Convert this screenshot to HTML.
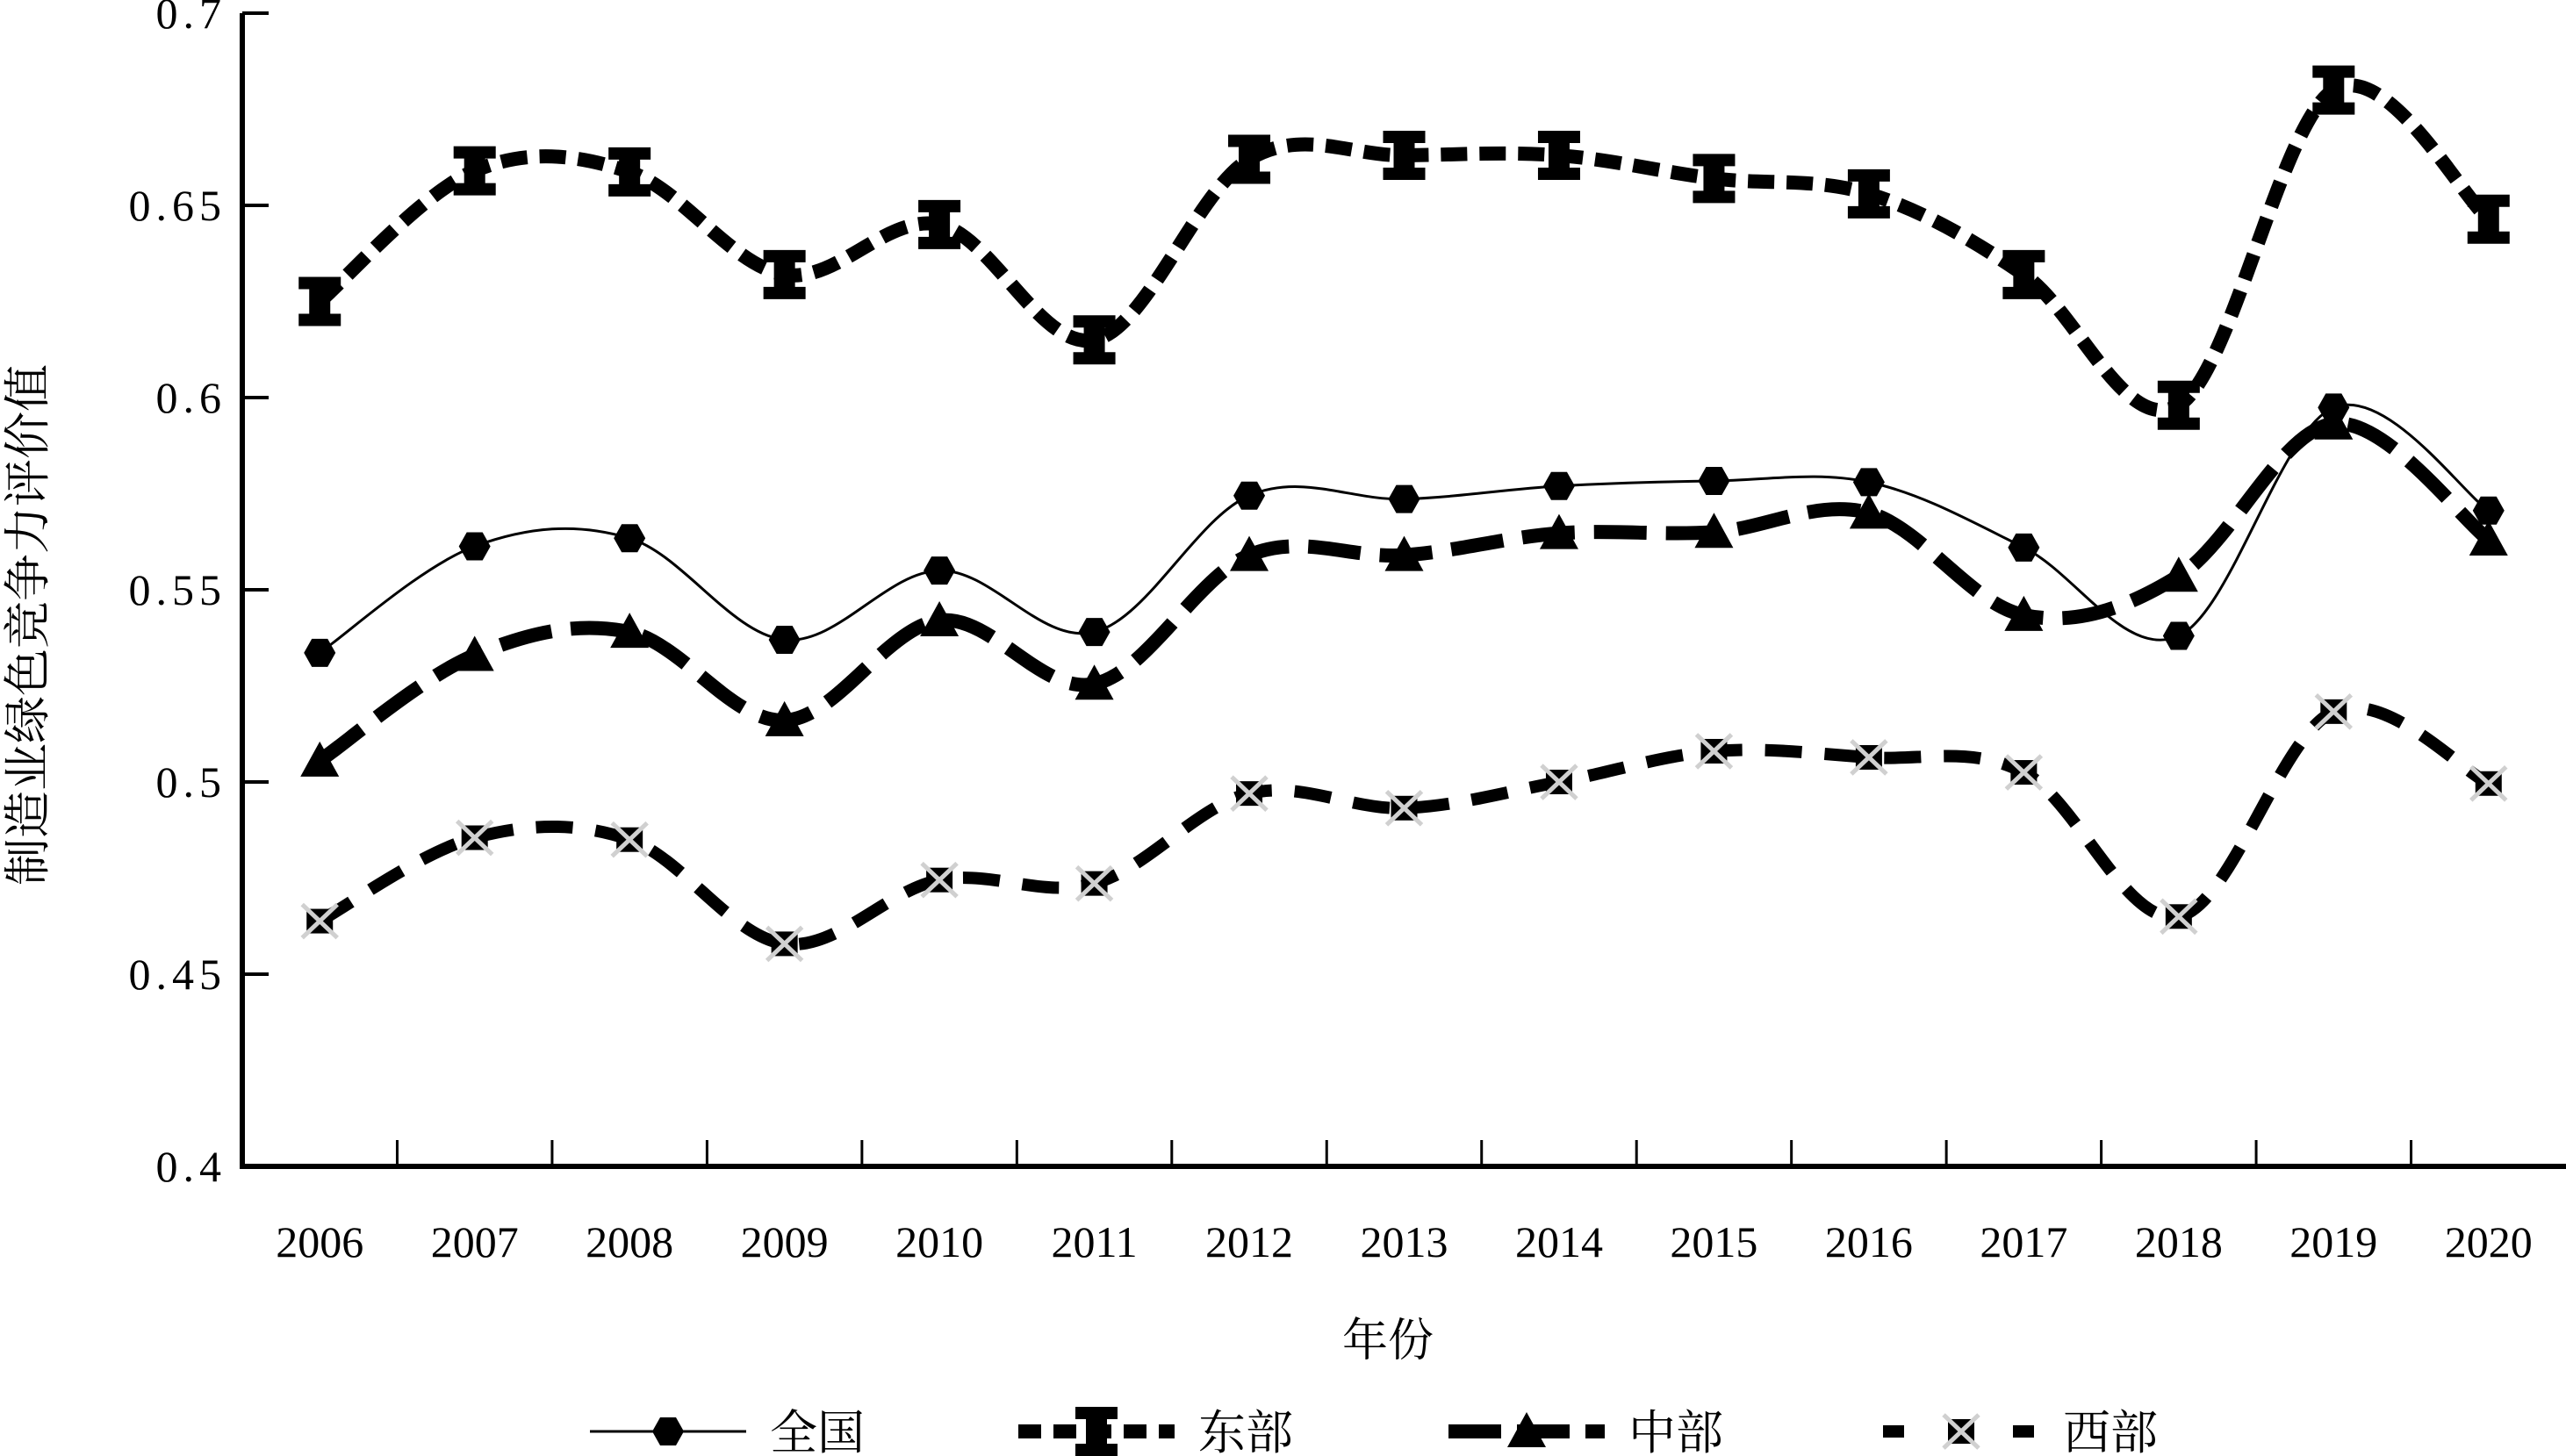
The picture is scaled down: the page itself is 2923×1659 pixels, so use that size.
<!DOCTYPE html>
<html><head><meta charset="utf-8">
<style>
html,body{margin:0;padding:0;background:#fff;}
svg{display:block;}
.tick{font-family:"Liberation Serif","Noto Serif CJK SC",serif;font-size:50px;fill:#000;}
.cjk{font-family:"Liberation Serif","Noto Serif CJK SC","Noto Sans CJK SC",serif;fill:#000;}
</style></head>
<body>
<svg id="chart" width="2923" height="1659" viewBox="0 0 2923 1659" xmlns="http://www.w3.org/2000/svg">
<g id="axes"></g>
<g id="series"></g>
<text class="cjk" x="1581" y="1545" font-size="52" text-anchor="middle">年份</text>
<text class="cjk" transform="translate(50,712) rotate(-90)" font-size="54" text-anchor="middle">制造业绿色竞争力评价值</text>
<g id="legend"></g>
</svg>
<script>
const categories=["2006","2007","2008","2009","2010","2011","2012","2013","2014","2015","2016","2017","2018","2019","2020"];
const seriesNames=["全国","东部","中部","西部"];
const quanguo=[0.5336,0.5613,0.5634,0.537,0.555,0.539,0.5745,0.5736,0.577,0.5783,0.578,0.561,0.538,0.5974,0.5706];
const dongbu=[0.625,0.659,0.6587,0.632,0.645,0.615,0.662,0.663,0.663,0.657,0.653,0.632,0.598,0.680,0.6464];
const zhongbu=[0.5055,0.533,0.539,0.516,0.542,0.5255,0.559,0.559,0.5647,0.565,0.570,0.5434,0.5536,0.5932,0.563];
const xibu=[0.4638,0.4855,0.485,0.4579,0.4745,0.4736,0.497,0.4932,0.5,0.508,0.5064,0.5025,0.465,0.5183,0.4996];
const yTicks=[0.4,0.45,0.5,0.55,0.6,0.65,0.7];
const yTickLabels=["0.4","0.45","0.5","0.55","0.6","0.65","0.7"];

const NS="http://www.w3.org/2000/svg";
const L=276,R=2923,T=15,B=1329,yMin=0.4,yMax=0.7;
const cw=(R-L)/categories.length;
function xPos(i){return L+cw*(i+0.5);}
function yPos(v){return B-(v-yMin)/(yMax-yMin)*(B-T);}
function mk(tag,attrs,parent){const e=document.createElementNS(NS,tag);for(const k in attrs)e.setAttribute(k,attrs[k]);parent.appendChild(e);return e;}

const axes=document.getElementById('axes');
// y ticks
yTicks.forEach((v,i)=>{
  const t=mk('line',{x1:L,x2:L+30,y1:yPos(v),y2:yPos(v),stroke:'#000','stroke-width':4},axes);
  
  
  const lb=mk('text',{x:258,y:yPos(v)+17,'text-anchor':'end',class:'tick','letter-spacing':'6'},axes);
  lb.textContent=yTickLabels[i];
  
  
});
// x ticks
for(let i=1;i<categories.length;i++){
  const t=mk('line',{x1:L+cw*i,x2:L+cw*i,y1:B,y2:B-30,stroke:'#000','stroke-width':3},axes);
  
  
}
categories.forEach((c,i)=>{
  const lb=mk('text',{x:xPos(i),y:1432,'text-anchor':'middle',class:'tick','font-size':'52'},axes);
  lb.textContent=c;
  
  
});
const ya=mk('line',{x1:L,x2:L,y1:T,y2:B+3,stroke:'#000','stroke-width':6},axes);


const xa=mk('line',{x1:L-3,x2:R,y1:B,y2:B,stroke:'#000','stroke-width':6},axes);



function smoothPath(vals){
  const p=vals.map((v,i)=>[xPos(i),yPos(v)]);
  let d='M'+p[0][0]+','+p[0][1];
  const t=0.17;
  for(let i=0;i<p.length-1;i++){
    const p0=p[i-1]||p[i],p1=p[i],p2=p[i+1],p3=p[i+2]||p[i+1];
    const c1=[p1[0]+(p2[0]-p0[0])*t,p1[1]+(p2[1]-p0[1])*t];
    const c2=[p2[0]-(p3[0]-p1[0])*t,p2[1]-(p3[1]-p1[1])*t];
    d+=' C'+c1[0]+','+c1[1]+' '+c2[0]+','+c2[1]+' '+p2[0]+','+p2[1];
  }
  return d;
}
function marker(type,x,y,g){
  let e;
  if(type===0){e=mk('polygon',{points:[[x-18,y],[x-9,y-16],[x+9,y-16],[x+18,y],[x+9,y+16],[x-9,y+16]].map(a=>a.join(',')).join(' '),fill:'#000'},g);}
  else if(type===1){e=mk('path',{d:`M${x-24},${y-28}h48v14h-12v28h12v14h-48v-14h12v-28h-12z`,fill:'#000'},g);}
  else if(type===2){e=mk('polygon',{points:`${x},${y-22} ${x+22},${y+18} ${x-22},${y+18}`,fill:'#000'},g);}
  else {e=mk('g',{},g);
    mk('rect',{x:x-15,y:y-14,width:30,height:28,fill:'#000'},e);
    mk('path',{d:`M${x-20},${y-19}L${x+20},${y+19}M${x+20},${y-19}L${x-20},${y+19}`,stroke:'#d0d0d0','stroke-width':5},e);}
  return e;
}
const styles=[
  {w:3,dash:null},
  {w:16,dash:'30 14'},
  {w:16,dash:'60 22'},
  {w:14,dash:'42 26'}
];
const allData=[quanguo,dongbu,zhongbu,xibu];
const sg=document.getElementById('series');
const snames=['series-quanguo','series-dongbu','series-zhongbu','series-xibu'];
allData.forEach((vals,si)=>{
  const g=mk('g',{},sg);
  
  
  const a={d:smoothPath(vals),fill:'none',stroke:'#000','stroke-width':styles[si].w};
  if(styles[si].dash)a['stroke-dasharray']=styles[si].dash;
  const p=mk('path',a,g);
  
  
  vals.forEach((v,i)=>{
    const m=marker(si,xPos(i),yPos(v),g);
    
    
  });
});
// legend
const lg=document.getElementById('legend');
const lx=[672,1160,1650,2145];
seriesNames.forEach((n,si)=>{
  const g=mk('g',{},lg);
  
  
  const y=1631;
  const a={x1:lx[si],x2:lx[si]+178,y1:y,y2:y,stroke:'#000','stroke-width':styles[si].w};
  if(si===1)a['stroke-dasharray']='26 14';
  if(si===2)a['stroke-dasharray']='60 18';
  if(si===3)a['stroke-dasharray']='24 50';
  mk('line',a,g);
  marker(si,lx[si]+89,y,g);
  const t=mk('text',{x:lx[si]+205,y:y+20,class:'cjk','font-size':'54'},g);
  t.textContent=n;
});
</script>
</body></html>
